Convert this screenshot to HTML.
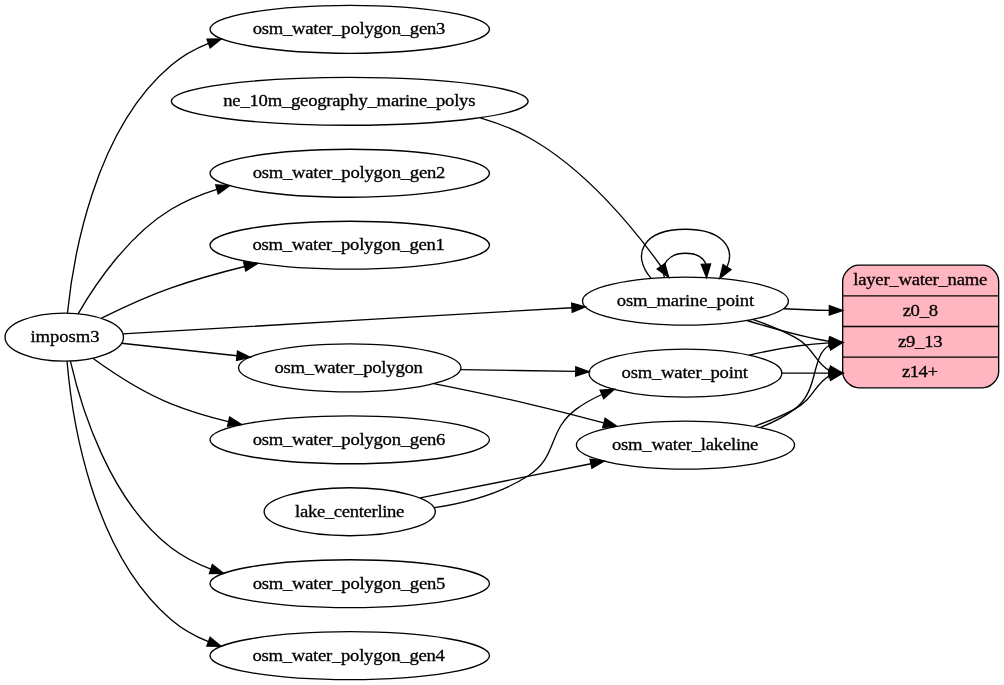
<!DOCTYPE html>
<html><head><meta charset="utf-8"><style>
html,body{margin:0;padding:0;background:#fff;width:1004px;height:685px;overflow:hidden}
svg{display:block;will-change:transform}
text{font-family:"Liberation Serif",serif;font-size:14px;fill:#000;stroke:#000;stroke-width:0.250px;}
</style></head><body>
<svg width="1004" height="685" viewBox="0 0 752.95 514" preserveAspectRatio="none">
<g id="graph0" class="graph" transform="scale(1 1) rotate(0) translate(4 510)">
<polygon fill="white" stroke="transparent" points="-4,4 -4,-510 748.95,-510 748.95,4 -4,4"/>
<g id="node1" class="node">
<ellipse fill="none" stroke="black" cx="44.2" cy="-257" rx="44.39" ry="18"/>
<text text-anchor="middle" x="44.72" y="-253.30" textLength="51.76" lengthAdjust="spacing" transform="matrix(1 0 0 0.920 0 -20.264)">imposm3</text>
</g>
<g id="node2" class="node">
<ellipse fill="none" stroke="black" cx="258.28" cy="-180" rx="104.78" ry="18"/>
<text text-anchor="middle" x="257.76" y="-176.30" textLength="144.56" lengthAdjust="spacing" transform="matrix(1 0 0 0.920 0 -14.104)">osm_water_polygon_gen6</text>
</g>
<g id="edge1" class="edge">
<path fill="none" stroke="black" d="M65.58,-241.2C80.94,-230.05 102.97,-215.6 124.39,-207 137.88,-201.58 152.6,-197.21 167.16,-193.69"/>
<polygon fill="black" stroke="black" points="168.24,-197.03 177.2,-191.39 166.67,-190.21 168.24,-197.03"/>
</g>
<g id="node3" class="node">
<ellipse fill="none" stroke="black" cx="258.28" cy="-72" rx="104.78" ry="18"/>
<text text-anchor="middle" x="257.76" y="-68.30" textLength="144.56" lengthAdjust="spacing" transform="matrix(1 0 0 0.920 0 -5.464)">osm_water_polygon_gen5</text>
</g>
<g id="edge2" class="edge">
<path fill="none" stroke="black" d="M48.8,-239.03C56.45,-205.78 77.61,-134.81 124.39,-99 133.28,-92.19 143.46,-86.98 154.14,-83.01"/>
<polygon fill="black" stroke="black" points="155.25,-86.33 163.63,-79.83 153.03,-79.69 155.25,-86.33"/>
</g>
<g id="node4" class="node">
<ellipse fill="none" stroke="black" cx="258.28" cy="-18" rx="104.78" ry="18"/>
<text text-anchor="middle" x="257.49" y="-14.30" textLength="144.32" lengthAdjust="spacing" transform="matrix(1 0 0 0.920 0 -1.144)">osm_water_polygon_gen4</text>
</g>
<g id="edge3" class="edge">
<path fill="none" stroke="black" d="M46.28,-238.95C49.77,-197.73 64.34,-96.29 124.39,-45 132.62,-37.98 142.17,-32.6 152.3,-28.52"/>
<polygon fill="black" stroke="black" points="153.53,-31.79 161.76,-25.11 151.16,-25.21 153.53,-31.79"/>
</g>
<g id="node5" class="node">
<ellipse fill="none" stroke="black" cx="258.28" cy="-488" rx="104.78" ry="18"/>
<text text-anchor="middle" x="257.76" y="-484.30" textLength="144.56" lengthAdjust="spacing" transform="matrix(1 0 0 0.920 0 -38.744)">osm_water_polygon_gen3</text>
</g>
<g id="edge4" class="edge">
<path fill="none" stroke="black" d="M46.57,-274.98C50.64,-315.06 66.3,-412.02 124.39,-461 132.66,-467.97 142.24,-473.31 152.39,-477.38"/>
<polygon fill="black" stroke="black" points="151.27,-480.69 161.86,-480.77 153.63,-474.1 151.27,-480.69"/>
</g>
<g id="node6" class="node">
<ellipse fill="none" stroke="black" cx="258.28" cy="-380" rx="104.78" ry="18"/>
<text text-anchor="middle" x="257.76" y="-376.30" textLength="144.56" lengthAdjust="spacing" transform="matrix(1 0 0 0.920 0 -30.104)">osm_water_polygon_gen2</text>
</g>
<g id="edge5" class="edge">
<path fill="none" stroke="black" d="M54.67,-274.66C67.45,-296.68 92.35,-333.76 124.39,-353 134.9,-359.31 146.64,-364.17 158.66,-367.91"/>
<polygon fill="black" stroke="black" points="157.77,-371.3 168.35,-370.68 159.69,-364.57 157.77,-371.3"/>
</g>
<g id="node7" class="node">
<ellipse fill="none" stroke="black" cx="258.28" cy="-326" rx="104.78" ry="18"/>
<text text-anchor="middle" x="257.49" y="-322.30" textLength="144.32" lengthAdjust="spacing" transform="matrix(1 0 0 0.920 0 -25.784)">osm_water_polygon_gen1</text>
</g>
<g id="edge6" class="edge">
<path fill="none" stroke="black" d="M72.12,-271.23C87.19,-278.76 106.49,-287.73 124.39,-294 141.95,-300.15 161.22,-305.53 179.51,-310.04"/>
<polygon fill="black" stroke="black" points="178.71,-313.45 189.26,-312.39 180.35,-306.64 178.71,-313.45"/>
</g>
<g id="node8" class="node">
<ellipse fill="none" stroke="black" cx="510.06" cy="-284" rx="77.19" ry="18"/>
<text text-anchor="middle" x="510.06" y="-280.30" textLength="103.03" lengthAdjust="spacing" transform="matrix(1 0 0 0.920 0 -22.424)">osm_marine_point</text>
</g>
<g id="edge7" class="edge">
<path fill="none" stroke="black" d="M88,-259.49C164.44,-263.94 325.67,-273.33 424.95,-279.1"/>
<polygon fill="black" stroke="black" points="424.76,-282.6 434.95,-279.69 425.17,-275.61 424.76,-282.6"/>
</g>
<g id="node9" class="node">
<ellipse fill="none" stroke="black" cx="258.28" cy="-234" rx="83.39" ry="18"/>
<text text-anchor="middle" x="257.49" y="-230.30" textLength="111.33" lengthAdjust="spacing" transform="matrix(1 0 0 0.920 0 -18.424)">osm_water_polygon</text>
</g>
<g id="edge8" class="edge">
<path fill="none" stroke="black" d="M87.1,-252.46C111.83,-249.77 144.01,-246.28 173.72,-243.06"/>
<polygon fill="black" stroke="black" points="174.13,-246.54 183.69,-241.98 173.37,-239.58 174.13,-246.54"/>
</g>
<g id="edge9" class="edge">
<path fill="none" stroke="black" d="M494.24,-301.78C491.55,-311.31 496.83,-320 510.06,-320 518.13,-320 523.23,-316.77 525.39,-312.1"/>
<polygon fill="black" stroke="black" points="528.9,-311.94 525.88,-301.78 521.91,-311.6 528.9,-311.94"/>
</g>
<g id="edge11" class="edge">
<path fill="none" stroke="black" d="M484.31,-301.14C469.17,-318.58 477.75,-338 510.06,-338 537.07,-338 547.5,-324.43 541.35,-309.79"/>
<polygon fill="black" stroke="black" points="544.15,-307.68 535.81,-301.14 538.26,-311.45 544.15,-307.68"/>
</g>
<g id="node14" class="node">
<path fill="lightpink" stroke="black" d="M639.95,-219C639.95,-219 732.95,-219 732.95,-219 738.95,-219 744.95,-225 744.95,-231 744.95,-231 744.95,-299 744.95,-299 744.95,-305 738.95,-311 732.95,-311 732.95,-311 639.95,-311 639.95,-311 633.95,-311 627.95,-305 627.95,-299 627.95,-299 627.95,-231 627.95,-231 627.95,-225 633.95,-219 639.95,-219"/>
<text text-anchor="middle" x="686.19" y="-295.80" textLength="100.40" lengthAdjust="spacing" transform="matrix(1 0 0 0.920 0 -23.664)">layer_water_name</text>
<polyline fill="none" stroke="black" points="627.95,-288 744.95,-288 "/>
<text text-anchor="middle" x="686.19" y="-272.80" textLength="26.50" lengthAdjust="spacing" transform="matrix(1 0 0 0.920 0 -21.824)">z0_8</text>
<polyline fill="none" stroke="black" points="627.95,-265 744.95,-265 "/>
<text text-anchor="middle" x="686.19" y="-249.80" textLength="33.54" lengthAdjust="spacing" transform="matrix(1 0 0 0.920 0 -19.984)">z9_13</text>
<polyline fill="none" stroke="black" points="627.95,-242 744.95,-242 "/>
<text text-anchor="middle" x="685.93" y="-226.80" textLength="27.11" lengthAdjust="spacing" transform="matrix(1 0 0 0.920 0 -18.144)">z14+</text>
</g>
<g id="edge20" class="edge">
<path fill="none" stroke="black" d="M583.66,-278.3C594.88,-277.71 606.48,-277.26 617.74,-277.08"/>
<polygon fill="black" stroke="black" points="617.98,-280.58 627.95,-277 617.93,-273.58 617.98,-280.58"/>
</g>
<g id="edge21" class="edge">
<path fill="none" stroke="black" d="M556.12,-269.5C577.55,-263.01 601.93,-256.28 617.94,-253.9"/>
<polygon fill="black" stroke="black" points="618.31,-257.38 627.95,-253 617.68,-250.41 618.31,-257.38"/>
</g>
<g id="edge22" class="edge">
<path fill="none" stroke="black" d="M560.44,-270.33C571.1,-266.61 582.12,-262.16 591.95,-257 606.07,-249.6 607.85,-236.85 618.11,-231.97"/>
<polygon fill="black" stroke="black" points="618.84,-235.4 627.95,-230 617.46,-228.53 618.84,-235.4"/>
</g>
<g id="node11" class="node">
<ellipse fill="none" stroke="black" cx="510.06" cy="-176" rx="81.79" ry="18"/>
<text text-anchor="middle" x="509.80" y="-172.30" textLength="109.76" lengthAdjust="spacing" transform="matrix(1 0 0 0.920 0 -13.784)">osm_water_lakeline</text>
</g>
<g id="edge12" class="edge">
<path fill="none" stroke="black" d="M321.31,-222.18C343.7,-217.71 369.13,-212.39 392.17,-207 410.62,-202.68 430.6,-197.55 448.73,-192.72"/>
<polygon fill="black" stroke="black" points="449.84,-196.05 458.59,-190.08 448.03,-189.29 449.84,-196.05"/>
</g>
<g id="node13" class="node">
<ellipse fill="none" stroke="black" cx="510.06" cy="-230" rx="72.29" ry="18"/>
<text text-anchor="middle" x="509.54" y="-226.30" textLength="94.77" lengthAdjust="spacing" transform="matrix(1 0 0 0.920 0 -18.104)">osm_water_point</text>
</g>
<g id="edge14" class="edge">
<path fill="none" stroke="black" d="M341.41,-232.68C369.15,-232.24 400.08,-231.75 427.75,-231.3"/>
<polygon fill="black" stroke="black" points="427.84,-234.8 437.78,-231.14 427.73,-227.8 427.84,-234.8"/>
</g>
<g id="node10" class="node">
<ellipse fill="none" stroke="black" cx="258.28" cy="-434" rx="133.78" ry="18"/>
<text text-anchor="middle" x="258.02" y="-430.30" textLength="189.14" lengthAdjust="spacing" transform="matrix(1 0 0 0.920 0 -34.424)">ne_10m_geography_marine_polys</text>
</g>
<g id="edge10" class="edge">
<path fill="none" stroke="black" d="M356.15,-421.6C368.7,-417.92 381.05,-413.16 392.17,-407 434.91,-383.34 471.33,-338.71 491.68,-310.22"/>
<polygon fill="black" stroke="black" points="494.61,-312.13 497.47,-301.93 488.88,-308.12 494.61,-312.13"/>
</g>
<g id="edge16" class="edge">
<path fill="none" stroke="black" d="M566.44,-189.3C575.45,-192.89 584.32,-197.38 591.95,-203 610.56,-216.69 603.9,-242.88 617.82,-250.72"/>
<polygon fill="black" stroke="black" points="617.43,-254.22 627.95,-253 618.96,-247.39 617.43,-254.22"/>
</g>
<g id="edge17" class="edge">
<path fill="none" stroke="black" d="M561.72,-190.12C571.98,-193.75 582.51,-198.05 591.95,-203 606.07,-210.4 607.85,-223.15 618.11,-228.03"/>
<polygon fill="black" stroke="black" points="617.46,-231.47 627.95,-230 618.84,-224.6 617.46,-231.47"/>
</g>
<g id="node12" class="node">
<ellipse fill="none" stroke="black" cx="258.28" cy="-126" rx="64.19" ry="18"/>
<text text-anchor="middle" x="258.28" y="-122.30" textLength="81.95" lengthAdjust="spacing" transform="matrix(1 0 0 0.920 0 -9.784)">lake_centerline</text>
</g>
<g id="edge13" class="edge">
<path fill="none" stroke="black" d="M311.04,-136.36C348.13,-143.79 398.52,-153.87 439.18,-162.01"/>
<polygon fill="black" stroke="black" points="438.53,-165.45 449.03,-163.98 439.91,-158.59 438.53,-165.45"/>
</g>
<g id="edge15" class="edge">
<path fill="none" stroke="black" d="M321.77,-129.1C345.32,-132.63 371.41,-139.59 392.17,-153 415.17,-167.86 406.11,-186.77 428.17,-203 433.99,-207.28 440.53,-210.92 447.31,-213.99"/>
<polygon fill="black" stroke="black" points="446.07,-217.26 456.65,-217.84 448.74,-210.79 446.07,-217.26"/>
</g>
<g id="edge18" class="edge">
<path fill="none" stroke="black" d="M557.86,-243.51C576,-247.8 597.3,-251.69 617.71,-252.73"/>
<polygon fill="black" stroke="black" points="617.87,-256.24 627.95,-253 618.05,-249.24 617.87,-256.24"/>
</g>
<g id="edge19" class="edge">
<path fill="none" stroke="black" d="M582.46,-230C594.08,-230 606.14,-230 617.81,-230"/>
<polygon fill="black" stroke="black" points="617.95,-233.5 627.95,-230 617.95,-226.5 617.95,-233.5"/>
</g>
</g>
</svg>
</body></html>
